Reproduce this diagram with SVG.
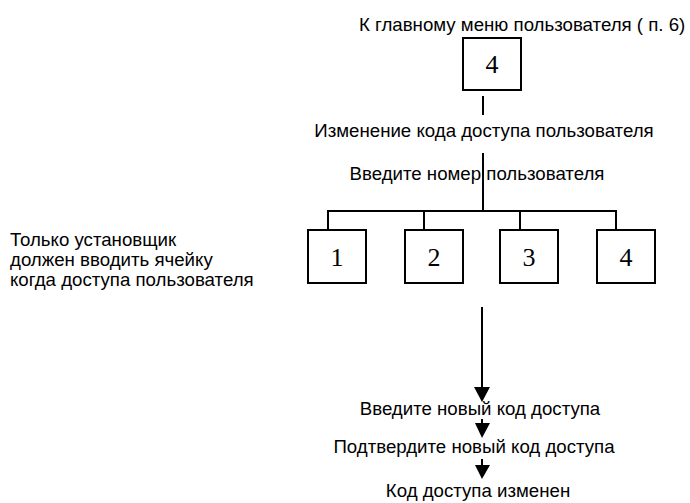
<svg xmlns="http://www.w3.org/2000/svg" width="690" height="503" viewBox="0 0 690 503">
<style>
.t{font-family:"Liberation Sans",Arial,sans-serif;font-size:18.67px;fill:#000}
.m{text-anchor:middle}
.d{font-family:"Liberation Serif","Times New Roman",serif;font-size:26px;fill:#000;text-anchor:middle}
.b{fill:#fff;stroke:#000;stroke-width:2}
.l{stroke:#000;stroke-width:2;fill:none}
.h{fill:#000}
</style>
<rect width="690" height="503" fill="#fff"/>
<g id="title"><text class="t" x="359" y="31">К главному меню пользователя ( п. 6)</text></g>
<g id="box-top"><rect class="b" x="463" y="38" width="58" height="52"/><text class="d" x="492" y="73">4</text></g>
<g id="label-change"><text class="t m" x="484" y="137">Изменение кода доступа пользователя</text></g>
<g id="label-enter-user"><text class="t m" x="477" y="180">Введите номер пользователя</text></g>
<g id="box-1"><rect class="b" x="308" y="230" width="58" height="53"/><text class="d" x="337" y="266">1</text></g>
<g id="box-2"><rect class="b" x="405" y="230" width="58" height="53"/><text class="d" x="434" y="266">2</text></g>
<g id="box-3"><rect class="b" x="500" y="230" width="58" height="53"/><text class="d" x="529" y="266">3</text></g>
<g id="box-4"><rect class="b" x="597" y="230" width="58" height="53"/><text class="d" x="626" y="266">4</text></g>
<g id="note"><text class="t" x="10" y="246">Только установщик</text><text class="t" x="10" y="266">должен вводить ячейку</text><text class="t" x="10" y="286">когда доступа пользователя</text></g>
<g id="label-new"><text class="t m" x="480" y="415">Введите новый код доступа</text></g>
<g id="label-confirm"><text class="t m" x="474" y="453">Подтвердите новый код доступа</text></g>
<g id="label-done"><text class="t m" x="478" y="497">Код доступа изменен</text></g>
<g id="connectors">
<line class="l" x1="483" y1="96" x2="483" y2="115"/>
<line class="l" x1="483" y1="153" x2="483" y2="211"/>
<polyline class="l" points="328,230 328,211 616,211 616,230"/>
<line class="l" x1="424" y1="211" x2="424" y2="230"/>
<line class="l" x1="520" y1="211" x2="520" y2="230"/>
<line class="l" x1="482" y1="307" x2="482" y2="390"/>
<polygon class="h" points="474,387 490,387 482,402"/>
<line class="l" x1="482" y1="419" x2="482" y2="425"/>
<polygon class="h" points="475,423 490,423 482,438"/>
<line class="l" x1="482" y1="459" x2="482" y2="466"/>
<polygon class="h" points="475,465 490,465 482,479"/>
</g>
</svg>
